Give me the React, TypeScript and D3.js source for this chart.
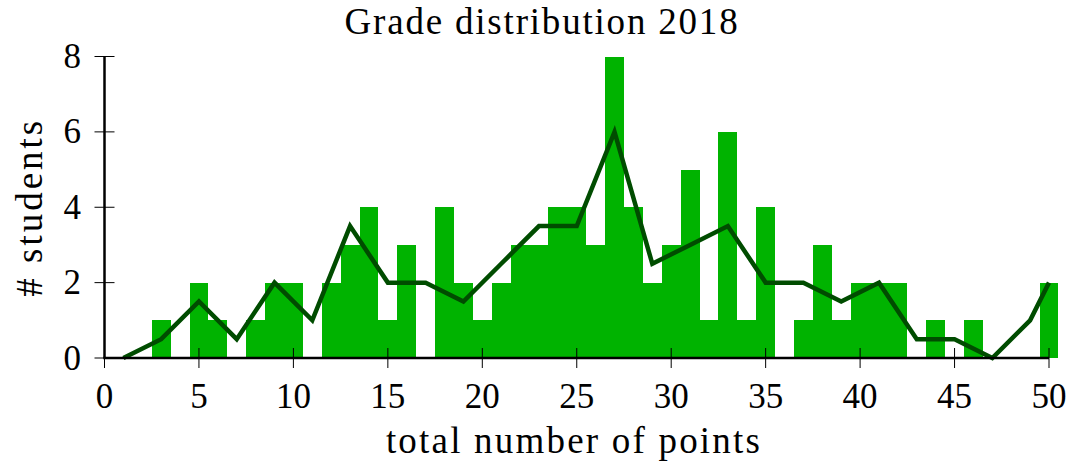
import React, { useEffect, useRef } from 'react';
import * as d3 from 'd3';

// points per student (bins centred on integer scores)
const scores = [
  1, 2, 3, 4, 5, 6, 7, 8, 9, 10,
  11, 12, 13, 14, 15, 16, 17, 18, 19, 20,
  21, 22, 23, 24, 25, 26, 27, 28, 29, 30,
  31, 32, 33, 34, 35, 36, 37, 38, 39, 40,
  41, 42, 43, 44, 45, 46, 47, 48, 49, 50,
];
const counts = [
  0, 0, 1, 0, 2, 1, 0, 1, 2, 2,
  0, 2, 3, 4, 1, 3, 0, 4, 2, 1,
  2, 3, 3, 4, 4, 3, 8, 4, 2, 3,
  5, 1, 6, 1, 4, 0, 1, 3, 1, 2,
  2, 2, 0, 1, 0, 1, 0, 0, 0, 2,
];

// smoothed trend line
const trendX = [1, 3, 5, 7, 9, 11, 13, 15, 17, 19, 21, 23, 25, 27, 29, 31, 33, 35, 37, 39, 41, 43, 45, 47, 49, 50];
const trendY = [0, 0.5, 1.5, 0.5, 2, 1, 3.5, 2, 2, 1.5, 2.5, 3.5, 3.5, 6, 2.5, 3, 3.5, 2, 2, 1.5, 2, 0.5, 0.5, 0, 1, 2];

const xTicks = [0, 5, 10, 15, 20, 25, 30, 35, 40, 45, 50];
const yTicks = [0, 2, 4, 6, 8];

const FONT = '"Liberation Serif", "DejaVu Serif", serif';
const BAR_COLOR = '#00b300';
const LINE_COLOR = '#004c00';

const App: React.FC = () => {
  const chartRef = useRef<SVGSVGElement>(null);

  useEffect(() => {
    if (!chartRef.current) return;
    const svg = d3.select(chartRef.current);
    svg.selectAll('*').remove();

    const x = d3.scaleLinear().domain([0, 50]).range([104.5, 1049]);
    const y = d3.scaleLinear().domain([0, 8]).range([358, 56.5]);

    // bars
    svg.append('g')
      .attr('shape-rendering', 'crispEdges')
      .selectAll('rect')
      .data(scores)
      .enter()
      .append('rect')
      .attr('x', d => x(d - 0.5))
      .attr('width', d => x(d + 0.5) - x(d - 0.5))
      .attr('y', (d, i) => y(counts[i]))
      .attr('height', (d, i) => y(0) - y(counts[i]))
      .attr('fill', BAR_COLOR);

    // trend line
    const line = d3.line<number>()
      .x((d, i) => x(trendX[i]))
      .y(d => y(d));

    svg.append('path')
      .datum(trendY)
      .attr('d', line)
      .attr('fill', 'none')
      .attr('stroke', LINE_COLOR)
      .attr('stroke-width', 4.5)
      .attr('stroke-linejoin', 'miter');

    // ticks
    svg.append('g')
      .selectAll('line')
      .data(xTicks)
      .enter()
      .append('line')
      .attr('x1', d => x(d))
      .attr('x2', d => x(d))
      .attr('y1', y(0) - 10)
      .attr('y2', y(0) + 10)
      .attr('stroke', '#000')
      .attr('stroke-width', 1);

    svg.append('g')
      .selectAll('line')
      .data(yTicks)
      .enter()
      .append('line')
      .attr('x1', x(0) - 10)
      .attr('x2', x(0) + 10)
      .attr('y1', d => y(d))
      .attr('y2', d => y(d))
      .attr('stroke', '#000')
      .attr('stroke-width', 1);

    // axis lines
    svg.append('line')
      .attr('x1', x(0))
      .attr('x2', x(0))
      .attr('y1', y(8))
      .attr('y2', y(0))
      .attr('stroke', '#000')
      .attr('stroke-width', 2.5);

    svg.append('line')
      .attr('x1', x(0) - 1.25)
      .attr('x2', x(50))
      .attr('y1', y(0))
      .attr('y2', y(0))
      .attr('stroke', '#000')
      .attr('stroke-width', 2.5);

    // tick labels
    svg.append('g')
      .selectAll('text')
      .data(xTicks)
      .enter()
      .append('text')
      .attr('x', d => x(d))
      .attr('y', 408)
      .attr('text-anchor', 'middle')
      .attr('font-family', FONT)
      .attr('font-size', 35)
      .attr('fill', '#000')
      .text(d => d);

    svg.append('g')
      .selectAll('text')
      .data(yTicks)
      .enter()
      .append('text')
      .attr('x', 81)
      .attr('y', d => y(d) + 11.5)
      .attr('text-anchor', 'end')
      .attr('font-family', FONT)
      .attr('font-size', 35)
      .attr('fill', '#000')
      .text(d => d);

    // titles
    svg.append('text')
      .attr('x', 542)
      .attr('y', 34)
      .attr('text-anchor', 'middle')
      .attr('font-family', FONT)
      .attr('font-size', 37)
      .attr('letter-spacing', 1.8)
      .attr('fill', '#000')
      .text('Grade distribution 2018');

    svg.append('text')
      .attr('x', 574)
      .attr('y', 453)
      .attr('text-anchor', 'middle')
      .attr('font-family', FONT)
      .attr('font-size', 37)
      .attr('letter-spacing', 2.2)
      .attr('fill', '#000')
      .text('total number of points');

    svg.append('text')
      .attr('transform', `translate(42, ${(y(0) + y(8)) / 2}) rotate(-90)`)
      .attr('text-anchor', 'middle')
      .attr('font-family', FONT)
      .attr('font-size', 37)
      .attr('letter-spacing', 3)
      .attr('fill', '#000')
      .text('# students');
  }, []);

  return (
    <div style={{ position: 'fixed', left: 0, top: 0, background: '#fff' }}>
      <svg ref={chartRef} width={1073} height={472} />
    </div>
  );
};

export default App;
